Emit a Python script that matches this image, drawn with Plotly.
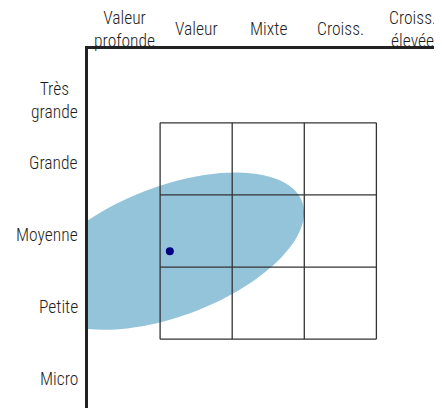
import plotly.graph_objects as go

# Style box categories
style_labels = ["Valeur<br>profonde", "Valeur", "Mixte", "Croiss.", "Croiss.<br>élevée"]
size_labels = ["Micro", "Petite", "Moyenne", "Grande", "Très<br>grande"]

# Centroid of the portfolio (in style/size units; category centres are 0..4)
centroid_x = [0.635]
centroid_y = [1.72]

# Ownership zone ellipse: conjugate semi-diameters (style units, size units)
zone_p = [1.862, 0.534]
zone_q = [0.0, -0.950]

# 3x3 style box bounds
box_edges = [0.5, 1.5, 2.5, 3.5]

FONT = "Roboto Condensed, Roboto, sans-serif"
FSIZE = 17.5

fig = go.Figure()

# ellipse path (cubic Bezier approximation) in data coordinates
cx, cy = centroid_x[0], centroid_y[0]
k = 0.5523
px, py = zone_p
qx, qy = zone_q
def pt(a, b):
    return f"{cx + a*px + b*qx},{cy + a*py + b*qy}"
path = (
    f"M {pt(1,0)} "
    f"C {pt(1,k)} {pt(k,1)} {pt(0,1)} "
    f"C {pt(-k,1)} {pt(-1,k)} {pt(-1,0)} "
    f"C {pt(-1,-k)} {pt(-k,-1)} {pt(0,-1)} "
    f"C {pt(k,-1)} {pt(1,-k)} {pt(1,0)} Z"
)
shapes = [dict(type="path", path=path, xref="x", yref="y", layer="below",
               fillcolor="#94c4da", line=dict(width=0))]

# style box grid lines
for e in box_edges:
    shapes.append(dict(type="line", xref="x", yref="y", layer="below",
                       x0=e, x1=e, y0=box_edges[0], y1=box_edges[-1],
                       line=dict(color="#333333", width=1.3)))
    shapes.append(dict(type="line", xref="x", yref="y", layer="below",
                       x0=box_edges[0], x1=box_edges[-1], y0=e, y1=e,
                       line=dict(color="#333333", width=1.3)))

fig.add_trace(go.Scatter(x=centroid_x, y=centroid_y, mode="markers",
                         marker=dict(color="#000080", size=8),
                         hoverinfo="skip", showlegend=False))

annotations = []
for i, lab in enumerate(style_labels):
    annotations.append(dict(x=i, y=1, xref="x", yref="paper", text=lab,
                            showarrow=False, xanchor="center", yanchor="middle",
                            yshift=20,
                            font=dict(family=FONT, size=FSIZE, color="#1e1e1e", weight=300)))
for i, lab in enumerate(size_labels):
    yshift = -4 if i < 4 else -14
    annotations.append(dict(x=0, y=i, xref="paper", yref="y", text=lab,
                            showarrow=False, xanchor="right", yanchor="middle",
                            xshift=-8, yshift=yshift,
                            font=dict(family=FONT, size=FSIZE, color="#1e1e1e", weight=300)))

fig.update_layout(
    width=434, height=400,
    margin=dict(l=80, r=0, t=41, b=0),
    paper_bgcolor="white", plot_bgcolor="white",
    shapes=shapes, annotations=annotations,
    xaxis=dict(range=[-0.5, 4.41], showgrid=False, zeroline=False,
               showticklabels=False, ticks="", side="top",
               showline=True, linecolor="#222222", linewidth=3),
    yaxis=dict(range=[-0.454, 4.523], showgrid=False, zeroline=False,
               showticklabels=False, ticks="",
               showline=True, linecolor="#222222", linewidth=3),
)

fig.write_html("out.html")
